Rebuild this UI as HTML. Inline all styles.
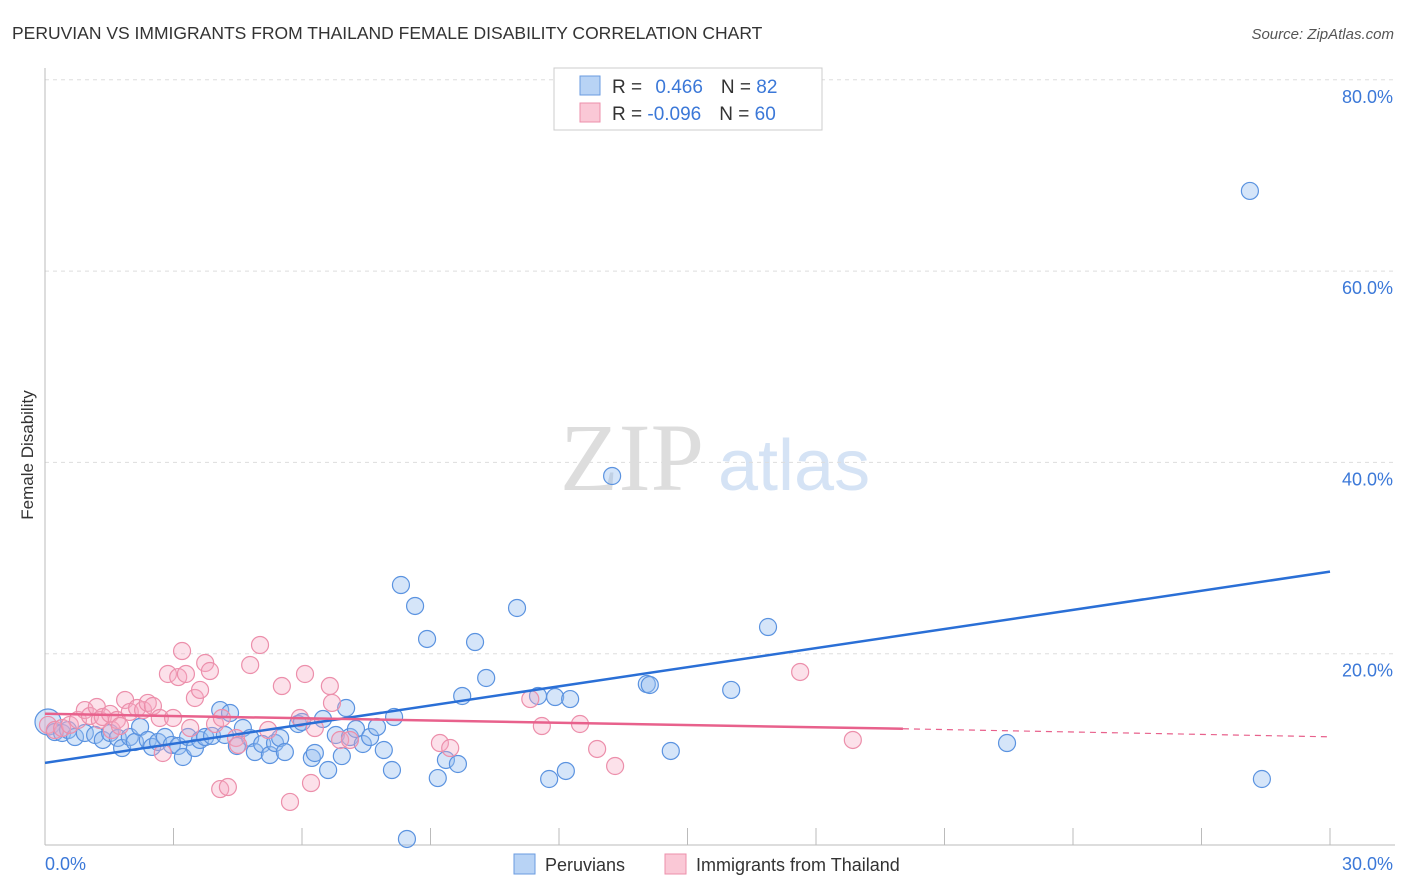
<!DOCTYPE html>
<html><head><meta charset="utf-8"><style>
body{margin:0;background:#fff;font-family:"Liberation Sans",sans-serif;}
#wrap{position:relative;width:1406px;height:892px;overflow:hidden;}
</style></head><body>
<div id="wrap">
<svg id="svg" width="1406" height="892" xmlns="http://www.w3.org/2000/svg">
<text x="12" y="39" font-size="17.5" fill="#333">PERUVIAN VS IMMIGRANTS FROM THAILAND FEMALE DISABILITY CORRELATION CHART</text>
<text x="1394" y="39" font-size="15" fill="#555" text-anchor="end" font-style="italic">Source: ZipAtlas.com</text>
<text transform="translate(33,455) rotate(-90)" font-size="17" fill="#333" text-anchor="middle">Female Disability</text>
<text x="560" y="490" font-size="96" fill="#ddd" font-family="Liberation Serif,serif">ZIP</text>
<text x="718" y="490" font-size="72" fill="#d5e3f5">atlas</text>
<g id="grid"></g>
<g id="axes"></g>
<g id="pts"></g>
<g id="lines"></g>
<g>
<rect x="554" y="68" width="268" height="62" fill="#fff" stroke="#ccc"/>
<rect x="580" y="76" width="20" height="19" fill="#b8d3f5" stroke="#6a9be0"/>
<rect x="580" y="103" width="20" height="19" fill="#fac8d6" stroke="#ec8fab"/>
<text x="612" y="93" font-size="19" fill="#333">R = <tspan fill="#3b78d8" dx="8">0.466</tspan><tspan fill="#333" dx="18">N = </tspan><tspan fill="#3b78d8">82</tspan></text>
<text x="612" y="120" font-size="19" fill="#333">R = <tspan fill="#3b78d8">-0.096</tspan><tspan fill="#333" dx="18">N = </tspan><tspan fill="#3b78d8">60</tspan></text>
</g>
<g>
<rect x="514" y="854" width="21" height="20" fill="#b8d3f5" stroke="#6a9be0"/>
<text x="545" y="871" font-size="18" fill="#333">Peruvians</text>
<rect x="665" y="854" width="21" height="20" fill="#fac8d6" stroke="#ec8fab"/>
<text x="696" y="871" font-size="18" fill="#333">Immigrants from Thailand</text>
</g>
</svg>
</div>
<script>
const xTicksMinor=[0,3,6,9,12,15,18,21,24,27,30];
const yTicks=[20,40,60,80];
const yTickLabels=["20.0%","40.0%","60.0%","80.0%"];
const xEndLabels=["0.0%","30.0%"];
const peruX=[0.07,0.23,0.40,0.54,0.70,0.93,1.17,1.35,1.52,1.70,1.80,1.98,2.10,2.22,2.40,2.50,2.64,2.80,2.96,3.11,3.22,3.34,3.50,3.62,3.74,3.90,4.09,4.20,4.32,4.48,4.62,4.79,4.90,5.07,5.25,5.37,5.49,5.60,5.91,6.00,6.23,6.30,6.49,6.61,6.79,6.93,7.03,7.12,7.26,7.42,7.59,7.75,7.91,8.10,8.15,8.31,8.45,8.64,8.92,9.17,9.36,9.64,9.74,10.04,10.30,11.02,11.51,11.77,11.91,12.16,12.26,13.24,14.05,14.12,14.61,16.02,16.88,22.46,28.13,28.41];
const peruY=[12.86,11.81,11.71,12.02,11.29,11.71,11.50,10.98,11.71,11.19,10.14,11.29,10.77,12.34,10.98,10.25,10.77,11.29,10.46,10.35,9.20,11.29,10.14,10.98,11.29,11.40,14.11,11.50,13.80,10.35,12.23,11.19,9.72,10.56,9.41,10.66,11.19,9.72,12.65,12.86,9.10,9.62,13.17,7.84,11.50,9.30,14.32,11.29,12.13,10.56,11.29,12.34,9.93,7.84,13.38,27.18,0.63,24.99,21.54,7.00,8.89,8.47,15.58,21.22,17.46,24.78,15.58,6.90,15.47,7.74,15.26,38.58,16.83,16.73,9.83,16.21,22.79,10.66,68.38,6.90];
const thaiX=[0.07,0.23,0.40,0.58,0.77,0.93,1.05,1.21,1.28,1.35,1.52,1.56,1.68,1.75,1.87,1.98,2.15,2.29,2.40,2.52,2.68,2.75,2.87,2.99,3.11,3.20,3.29,3.39,3.50,3.62,3.74,3.85,3.97,4.09,4.13,4.27,4.46,4.51,4.79,5.02,5.21,5.53,5.72,5.95,6.07,6.21,6.30,6.65,6.70,6.89,7.12,9.22,9.46,11.33,11.60,12.49,12.89,13.31,17.63,18.86];
const thaiY=[12.55,12.02,12.23,12.55,13.07,14.11,13.49,14.43,13.07,13.38,13.70,12.02,13.07,12.44,15.16,13.91,14.32,14.11,14.85,14.53,13.28,9.62,17.88,13.28,17.56,20.28,17.88,12.23,15.37,16.21,19.03,18.19,12.65,5.85,13.28,6.06,11.19,10.46,18.82,20.91,12.02,16.62,4.50,13.28,17.88,6.48,12.23,16.62,14.85,10.98,10.98,10.66,10.14,15.26,12.44,12.65,10.04,8.26,18.09,10.98];
const peruTrend=[8.59,28.58];
const thaiTrend=[13.72,12.15,11.31];
const thaiSolidEnd=20.03;

const NS="http://www.w3.org/2000/svg";
const X0=45,X1=1330,Y0=845,PXPER=191.3/20;
const sx=v=>X0+(v/30)*(X1-X0);
const sy=v=>Y0-v*PXPER;
function mk(tag,attrs,parent){const e=document.createElementNS(NS,tag);for(const k in attrs)e.setAttribute(k,attrs[k]);parent.appendChild(e);return e;}
const grid=document.getElementById('grid'),axes=document.getElementById('axes'),pts=document.getElementById('pts'),lines=document.getElementById('lines');
yTicks.forEach((t,i)=>{
  const l=mk('line',{x1:X0,x2:1395,y1:sy(t),y2:sy(t),stroke:'#ddd','stroke-dasharray':'4,4'},grid);
  
  
  const tx=mk('text',{x:1393,y:sy(t)+23,'font-size':18,fill:'#3b78d8','text-anchor':'end'},grid);
  tx.textContent=yTickLabels[i];
  
  
});
let a=mk('line',{x1:X0,x2:X0,y1:68,y2:Y0,stroke:'#bbb'},axes);


a=mk('line',{x1:X0,x2:1395,y1:Y0,y2:Y0,stroke:'#bbb'},axes);


xTicksMinor.slice(1).forEach(t=>{
  const l=mk('line',{x1:sx(t),x2:sx(t),y1:828,y2:Y0,stroke:'#bbb'},axes);
  
  
});
let xl=mk('text',{x:45,y:870,'font-size':18,fill:'#3b78d8'},axes);xl.textContent=xEndLabels[0];


xl=mk('text',{x:1393,y:870,'font-size':18,fill:'#3b78d8','text-anchor':'end'},axes);xl.textContent=xEndLabels[1];


peruX.forEach((x,i)=>{
  const c=mk('circle',{cx:sx(x),cy:sy(peruY[i]),r:i===0?13:8.5,fill:'rgba(150,190,240,0.4)',stroke:'#5b93e0','stroke-width':1.2},pts);
  
  
});
thaiX.forEach((x,i)=>{
  const c=mk('circle',{cx:sx(x),cy:sy(thaiY[i]),r:8.5,fill:'rgba(245,170,195,0.35)',stroke:'#ec8fab','stroke-width':1.2},pts);
  
  
});
let tl=mk('line',{x1:sx(0),y1:sy(peruTrend[0]),x2:sx(30),y2:sy(peruTrend[1]),stroke:'#2a6fd6','stroke-width':2.5},lines);


tl=mk('line',{x1:sx(0),y1:sy(thaiTrend[0]),x2:sx(thaiSolidEnd),y2:sy(thaiTrend[1]),stroke:'#e8618c','stroke-width':2.5},lines);


tl=mk('line',{x1:sx(thaiSolidEnd),y1:sy(thaiTrend[1]),x2:sx(30),y2:sy(thaiTrend[2]),stroke:'#e8618c','stroke-width':1.2,'stroke-dasharray':'6,5'},lines);


</script>
</body></html>
